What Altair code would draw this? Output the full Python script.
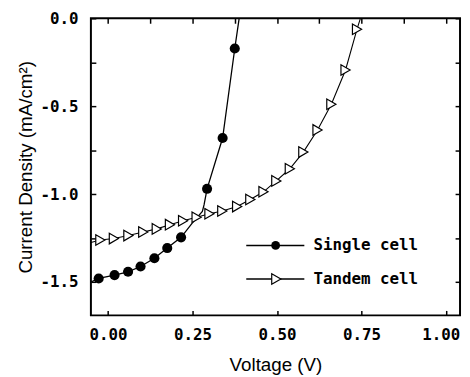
import altair as alt
import pandas as pd

# Single cell (filled markers) and its curve
single_v_markers = [-0.028, 0.019, 0.059, 0.096, 0.137, 0.175, 0.216, 0.293, 0.339, 0.375]
single_j_markers = [-1.480, -1.461, -1.442, -1.412, -1.365, -1.307, -1.246, -0.970, -0.681, -0.172]
single_v_line = [-0.051, -0.028, 0.019, 0.059, 0.096, 0.137, 0.175, 0.216, 0.249, 0.279, 0.284,
                 0.293, 0.339, 0.375, 0.388]
single_j_line = [-1.500, -1.480, -1.461, -1.442, -1.412, -1.365, -1.307, -1.246, -1.165, -1.099, -1.062,
                 -0.970, -0.681, -0.172, 0.0]

# Tandem cell (open triangles) and its curve
tandem_v_markers = [-0.023, 0.017, 0.060, 0.104, 0.144, 0.183, 0.222, 0.262, 0.300, 0.338,
                    0.382, 0.421, 0.460, 0.498, 0.538, 0.578, 0.620, 0.661, 0.703, 0.737]
tandem_j_markers = [-1.261, -1.253, -1.236, -1.216, -1.198, -1.174, -1.152, -1.132, -1.112, -1.096,
                    -1.071, -1.031, -0.987, -0.925, -0.856, -0.761, -0.635, -0.489, -0.294, -0.062]
tandem_v_line = [-0.051] + tandem_v_markers + [0.747]
tandem_j_line = [-1.275] + tandem_j_markers + [0.0]

# Axes
x_domain = [-0.051, 1.042]
y_domain = [-1.69, 0.0]
x_major = [0.0, 0.25, 0.5, 0.75, 1.0]
x_minor = [0.0, 0.125, 0.25, 0.375, 0.5, 0.625, 0.75, 0.875, 1.0]
y_ticks = [0.0, -0.25, -0.5, -0.75, -1.0, -1.25, -1.5]

# Legend
legend_labels = ["Single cell", "Tandem cell"]
legend_j = [-1.292, -1.483]
legend_v_start = 0.409
legend_v_end = 0.581
legend_v_marker = [0.496, 0.498]
legend_v_text = 0.608

df_s_line = pd.DataFrame({"v": single_v_line, "j": single_j_line})
df_s_mark = pd.DataFrame({"v": single_v_markers, "j": single_j_markers})
df_t_line = pd.DataFrame({"v": tandem_v_line, "j": tandem_j_line})
df_t_mark = pd.DataFrame({"v": tandem_v_markers, "j": tandem_j_markers})
df_leg = pd.DataFrame({
    "label": legend_labels,
    "j": legend_j,
    "v0": [legend_v_start] * 2,
    "v1": [legend_v_end] * 2,
    "vm": legend_v_marker,
    "vt": [legend_v_text] * 2,
})

xs = alt.Scale(domain=x_domain, nice=False, zero=False)
ys = alt.Scale(domain=y_domain, nice=False, zero=False)

LABEL_FONT = "DejaVu Sans Mono"
TITLE_FONT = "Liberation Sans"

x_axis_bottom = alt.Axis(
    values=x_major, format=".2f", orient="bottom", offset=-5, tickSize=5, tickWidth=1.5,
    tickColor="black", domain=False, grid=False, labelFont=LABEL_FONT, labelFontSize=16,
    labelFontWeight="bold", labelColor="black", labelPadding=11, labelFlush=16,
    labelFlushOffset=14, labelOverlap=False,
    title="Voltage (V)", titleFont=TITLE_FONT,
    titleFontSize=19, titleFontWeight="normal", titleColor="black", titlePadding=14,
)
y_axis_left = alt.Axis(
    values=y_ticks, orient="left", offset=-5, tickSize=5, tickWidth=1.5, tickColor="black",
    domain=False, grid=False, labelFont=LABEL_FONT, labelFontSize=16, labelFontWeight="bold",
    labelColor="black", labelPadding=13, labelOverlap=False,
    labelExpr="abs(datum.value*2 - round(datum.value*2)) < 0.01 ? replace(format(datum.value, '.1f'), '\u2212', '-') : ''",
    title="Current Density (mA/cm\u00b2)", titleFont=TITLE_FONT, titleFontSize=19,
    titleFontWeight="normal", titleColor="black", titlePadding=5,
)
x_axis_top = alt.Axis(
    values=x_minor, orient="top", offset=-5, tickSize=5, tickWidth=1.5, tickColor="black",
    domain=False, grid=False, labels=False, title=None,
)
y_axis_right = alt.Axis(
    values=y_ticks, orient="right", offset=-5, tickSize=5, tickWidth=1.5, tickColor="black",
    domain=False, grid=False, labels=False, title=None,
)

s_line = alt.Chart(df_s_line).mark_line(color="black", strokeWidth=1.3).encode(
    x=alt.X("v:Q", scale=xs, axis=x_axis_bottom),
    y=alt.Y("j:Q", scale=ys, axis=y_axis_left),
)
t_line = alt.Chart(df_t_line).mark_line(color="black", strokeWidth=1.1).encode(
    x=alt.X("v:Q", scale=xs, axis=x_axis_top),
    y=alt.Y("j:Q", scale=ys, axis=y_axis_right),
)
s_mark = alt.Chart(df_s_mark).mark_point(shape="circle", filled=True, color="black", size=105, opacity=1).encode(
    x=alt.X("v:Q", scale=xs, axis=None),
    y=alt.Y("j:Q", scale=ys, axis=None),
)
t_mark = alt.Chart(df_t_mark).mark_point(shape="triangle-right", filled=True, fill="white",
                                         stroke="black", strokeWidth=1.2, size=115, opacity=1).encode(
    x=alt.X("v:Q", scale=xs, axis=None),
    y=alt.Y("j:Q", scale=ys, axis=None),
)

leg_rule = alt.Chart(df_leg).mark_rule(color="black", strokeWidth=1.5).encode(
    x=alt.X("v0:Q", scale=xs, axis=None), x2="v1:Q",
    y=alt.Y("j:Q", scale=ys, axis=None),
)
leg_s = alt.Chart(df_leg.iloc[[0]]).mark_point(shape="circle", filled=True, color="black", size=80, opacity=1).encode(
    x=alt.X("vm:Q", scale=xs, axis=None),
    y=alt.Y("j:Q", scale=ys, axis=None),
)
leg_t = alt.Chart(df_leg.iloc[[1]]).mark_point(shape="triangle-right", filled=True, fill="white",
                                               stroke="black", strokeWidth=1.2, size=115, opacity=1).encode(
    x=alt.X("vm:Q", scale=xs, axis=None),
    y=alt.Y("j:Q", scale=ys, axis=None),
)
leg_text = alt.Chart(df_leg).mark_text(align="left", baseline="middle", font=LABEL_FONT,
                                       fontSize=16, fontWeight="bold", color="black").encode(
    x=alt.X("vt:Q", scale=xs, axis=None),
    y=alt.Y("j:Q", scale=ys, axis=None),
    text="label:N",
)

chart = alt.layer(
    s_line, t_line, t_mark, s_mark, leg_rule, leg_t, leg_s, leg_text
).resolve_axis(x="independent", y="independent").properties(
    width=374, height=301,
    autosize=alt.AutoSizeParams(type="none"),
    padding={"left": 84, "top": 8, "right": 2, "bottom": 60},
).configure(
    background="white",
    view=alt.ViewConfig(stroke="black", strokeWidth=2),
)

chart.save("out.html", embed_options={"renderer": "svg", "actions": False})
